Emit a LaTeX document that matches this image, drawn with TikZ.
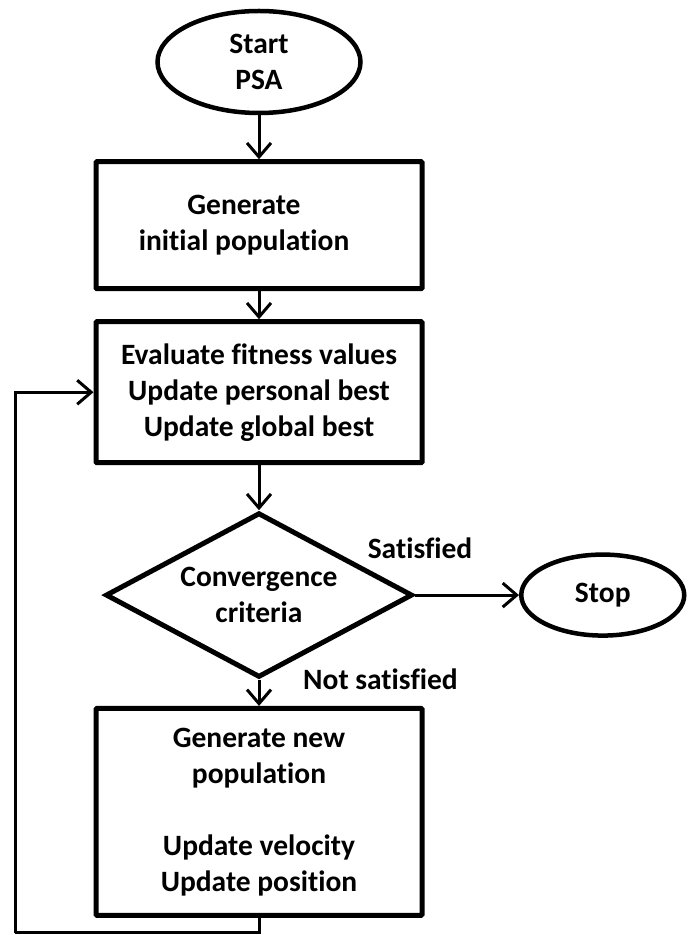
\documentclass[tikz,border=0pt]{standalone}
\usepackage{fontspec}
\setmainfont[Ligatures=NoCommon]{Carlito}
\usepackage{xcolor}
\usepackage{tikz}
\usetikzlibrary{shapes.geometric, arrows.meta, positioning, calc}
\definecolor{mydark}{RGB}{0,0,0}
\tikzset{
  terminal/.style={ellipse, draw=mydark, fill=white, align=center,
    inner sep=0pt, line width=4.5pt, font=\flowfont},
  procbox/.style={rectangle, draw=mydark, fill=white, align=center,
    minimum width=326pt, inner sep=0pt, line width=5pt,
    rounded corners=1pt, font=\flowfont},
  decision/.style={diamond, draw=mydark, fill=white, align=center,
    minimum width=307pt, minimum height=141pt, inner sep=-12pt,
    line width=5pt, font=\flowfont},
  lbl/.style={inner sep=0pt, font=\flowfont},
  arrow/.style={-{Straight Barb[length=14pt, width=24pt]}, line width=3pt, color=mydark},
  line/.style={line width=3pt, color=mydark}
}
\newcommand{\flowfont}{\fontsize{29.5}{36}\selectfont\bfseries}

\begin{document}
\begin{tikzpicture}[x=1pt, y=1pt, node distance=48pt and 108pt]
  \useasboundingbox (0,0) rectangle (689,935);

  % Start
  \node[terminal, minimum width=203pt, minimum height=102pt] (start) at (259,873) {Start\\PSA};

  % Process boxes
  \node[procbox, minimum height=127pt, below=44pt of start] (init)
    {\begin{tabular}{@{}c@{\hspace{30pt}}}Generate\\initial population\end{tabular}};
  \node[procbox, minimum height=141pt, below=28pt of init] (eval)
    {Evaluate fitness values\\Update personal best\\Update global best};

  % Decision
  \node[decision, below=45pt of eval] (conv) {Convergence\\criteria};
  \node[terminal, minimum width=163pt, minimum height=81pt, right=104pt of conv] (stop) {Stop};

  % New population
  \node[procbox, minimum height=207pt, below=26pt of conv] (newpop)
    {Generate new\\population\\[36pt]Update velocity\\Update position};

  % Return path
  \coordinate (back) at (15,2);

  % Arrows
  \draw[arrow] (start) -- (init);
  \draw[arrow] (init) -- (eval);
  \draw[arrow] (eval) -- (conv);
  \draw[arrow] (conv) -- (stop);
  \draw[arrow] (conv) -- (newpop);
  \draw[line] (newpop.south) |- (back);
  \draw[arrow] (back) |- (eval.west);

  % Labels
  \node[lbl, above=36pt of conv.east, xshift=5pt] (sat) {Satisfied};
  \node[lbl, right=44pt of conv.south, yshift=1pt] (notsat) {Not satisfied};
\end{tikzpicture}
\end{document}
